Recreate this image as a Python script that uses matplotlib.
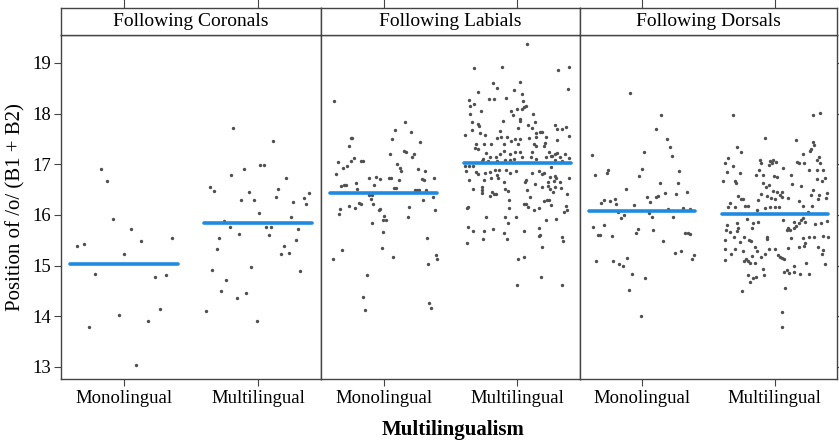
import numpy as np
import matplotlib.pyplot as plt

plt.rcParams['font.family'] = ['Liberation Serif', 'DejaVu Serif']

# ---------------- data ----------------
panels = ["Following Coronals", "Following Labials", "Following Dorsals"]
groups = ["Monolingual", "Multilingual"]

# group means (blue bars)
coronal_means = [15.03, 15.84]
labial_means = [16.44, 17.02]
dorsal_means = [16.08, 16.02]

# individual tokens: value and horizontal jitter
coronal_mono_y = [15.39, 15.42, 13.79, 14.84, 16.91, 16.67, 15.92, 14.02, 15.22, 15.73,
                  13.04, 15.48, 13.90, 14.78, 14.14, 14.82, 15.55]
coronal_mono_dx = [-0.35, -0.30, -0.26, -0.22, -0.17, -0.13, -0.08, -0.04, 0.00, 0.05,
                   0.09, 0.13, 0.18, 0.23, 0.27, 0.31, 0.36]

coronal_multi_y = [17.72, 17.45, 16.91, 16.98, 16.98, 16.79, 16.73, 16.54, 16.48, 16.51,
                   16.46, 16.44, 16.35, 16.30, 16.30, 16.33, 16.25, 16.22, 16.04, 15.96,
                   15.88, 15.77, 15.77, 15.77, 15.72, 15.63, 15.61, 15.55, 15.51, 15.38,
                   15.32, 15.22, 15.24, 14.97, 14.92, 14.90, 14.72, 14.49, 14.45, 14.35,
                   14.10, 13.90]
coronal_multi_dx = [-0.184, 0.114, -0.102, 0.017, 0.042, -0.199, 0.209, -0.361, -0.328, 0.152,
                    -0.065, 0.378, 0.137, -0.127, -0.032, 0.341, 0.264, 0.356, 0.005, 0.246,
                    -0.251, -0.211, 0.060, 0.100, 0.301, -0.142, 0.082, -0.289, 0.286, 0.194,
                    -0.306, 0.169, 0.231, -0.050, -0.343, 0.316, -0.236, -0.274, -0.087, -0.159,
                    -0.386, -0.010]

labial_mono_y = [18.25, 17.04, 16.81, 15.12, 15.30, 16.11, 16.02, 16.93, 16.97, 17.35,
                 17.51, 17.51, 17.06, 17.12, 16.57, 16.59, 16.58, 16.17, 16.13, 16.62,
                 16.52, 16.24, 16.21, 17.07, 17.07, 16.72, 16.39, 16.32, 16.40, 16.22,
                 16.59, 16.74, 15.84, 16.09, 16.11, 16.71, 15.35, 15.67, 15.97, 15.89,
                 15.89, 14.37, 14.12, 14.82, 16.73, 16.73, 17.21, 17.49, 15.17, 16.53,
                 16.53, 17.68, 17.01, 16.68, 16.93, 16.87, 17.26, 17.25, 17.84, 15.96,
                 16.16, 17.63, 17.14, 17.21, 16.50, 16.50, 16.50, 16.90, 17.43, 16.70,
                 16.69, 16.29, 16.87, 16.50, 15.54, 15.03, 14.26, 14.16, 16.36, 16.72,
                 16.09, 15.21, 15.13]
labial_mono_dx = [-0.373, -0.346, -0.358, -0.383, -0.313, -0.331, -0.338, -0.303, -0.274, -0.261,
                  -0.249, -0.236, -0.244, -0.226, -0.318, -0.299, -0.284, -0.264, -0.219, -0.206,
                  -0.197, -0.187, -0.167, -0.174, -0.157, -0.112, -0.107, -0.095, -0.087, -0.082,
                  -0.070, -0.057, -0.087, -0.037, -0.030, -0.025, -0.015, -0.002, 0.005, -0.005,
                  0.017, -0.152, -0.142, -0.124, 0.042, 0.055, 0.050, 0.060, 0.067, 0.077,
                  0.092, 0.082, 0.100, 0.117, 0.124, 0.132, 0.152, 0.164, 0.162, 0.179,
                  0.192, 0.201, 0.209, 0.229, 0.231, 0.246, 0.266, 0.254, 0.271, 0.286,
                  0.299, 0.291, 0.308, 0.318, 0.326, 0.333, 0.341, 0.356, 0.366, 0.373,
                  0.381, 0.388, 0.396]

labial_multi_y = [19.38, 18.89, 18.92, 18.85, 18.92, 18.61, 18.50, 18.63, 18.46, 18.48,
                  18.42, 18.31, 18.38, 18.26, 18.15, 18.19, 18.29, 18.29, 18.25, 18.05,
                  18.05, 18.09, 18.09, 18.13, 18.14, 18.00, 17.97, 17.89, 18.00, 17.84,
                  17.86, 17.85, 17.84, 17.80, 17.76, 17.72, 17.77, 17.72, 17.78, 17.70,
                  17.70, 17.74, 17.67, 17.61, 17.65, 17.64, 17.62, 17.63, 17.58, 17.58,
                  17.54, 17.53, 17.53, 17.53, 17.51, 17.45, 17.50, 17.49, 17.51, 17.47,
                  17.55, 17.39, 17.40, 17.40, 17.41, 17.32, 17.30, 17.40, 17.40, 17.39,
                  17.35, 17.35, 17.27, 17.25, 17.25, 17.24, 17.22, 17.21, 17.20, 17.25,
                  17.22, 17.15, 17.11, 17.14, 17.15, 17.15, 17.17, 17.16, 17.20, 17.14,
                  17.21, 17.07, 17.06, 17.07, 17.09, 17.08, 17.10, 17.10, 17.14, 17.08,
                  17.07, 17.12,
                  16.96, 16.96, 16.97, 16.87, 16.85, 16.81, 16.82, 16.85, 16.88, 16.88,
                  16.89, 16.87, 16.82, 16.79, 16.72, 16.72, 16.69, 16.69, 16.65, 16.83,
                  16.86, 16.80, 16.83, 16.75, 16.77, 16.73, 16.69, 16.64, 16.61, 16.64,
                  16.67, 16.64, 16.72, 16.95, 16.52, 16.54, 16.50, 16.43, 16.37, 16.46,
                  16.42, 16.41, 16.51, 16.47, 16.49, 16.36, 16.54, 16.57, 16.51, 16.54,
                  16.53, 16.42, 16.46, 16.29, 16.21, 16.21, 16.16, 16.09, 16.13, 16.27,
                  16.30, 16.30, 16.19, 16.18, 16.09, 16.05, 16.14, 16.16, 16.14, 15.96,
                  15.95, 15.96, 15.83, 15.90, 15.91, 15.76, 15.69, 15.68, 15.73, 15.64,
                  15.53, 15.68, 15.74, 15.61, 15.59, 15.53, 15.56, 15.48, 15.44, 15.36,
                  15.13, 15.17, 14.78, 14.62, 14.62]
labial_multi_dx = [0.072, -0.324, -0.115, 0.306, 0.390, -0.184, -0.154, 0.017, -0.027, 0.378,
                   -0.291, -0.082, 0.035, -0.361, -0.356, -0.324, -0.212, -0.177, 0.042, -0.271,
                   -0.045, -0.005, 0.037, 0.052, 0.067, -0.351, -0.035, 0.020, 0.119, -0.336,
                   -0.105, 0.017, 0.132, -0.294, -0.284, 0.005, 0.082, 0.107, 0.283, 0.301,
                   0.333, 0.366, -0.341, -0.276, -0.130, 0.167, 0.139, 0.184, -0.393, -0.239,
                   -0.125, -0.075, 0.137, 0.216, -0.154, -0.045, -0.015, 0.017, 0.089, 0.301,
                   0.390, -0.309, -0.197, 0.127, 0.209, -0.316, -0.296, -0.246, -0.100, 0.007,
                   0.144, 0.204, -0.102, -0.020, 0.017, 0.109, -0.232, -0.130, -0.058, 0.236,
                   0.298, -0.204, -0.259, -0.157, 0.032, 0.104, 0.251, 0.264, 0.279, 0.318,
                   0.358, -0.262, -0.222, -0.149, -0.095, -0.058, -0.025, 0.144, 0.216, 0.283,
                   0.333, 0.390,
                   -0.393, -0.358, -0.334, -0.381, -0.306, -0.296, -0.239, -0.202, -0.169, -0.135,
                   -0.085, -0.013, -0.053, -0.150, -0.145, -0.194, -0.247, -0.361, -0.097, 0.109,
                   0.161, 0.184, 0.204, 0.243, 0.281, 0.288, 0.064, 0.057, 0.134, 0.234,
                   0.278, 0.318, 0.388, 0.256, -0.331, -0.264, -0.264, -0.264, -0.207, -0.189,
                   -0.172, -0.160, -0.090, -0.070, 0.072, 0.097, 0.189, 0.231, 0.246, 0.281,
                   0.331, 0.370, 0.266, -0.060, 0.052, 0.067, 0.079, 0.122, 0.166, 0.201,
                   0.224, 0.238, 0.253, 0.368, 0.375, 0.348, -0.376, -0.368, -0.060, -0.232,
                   -0.090, -0.013, -0.070, 0.216, 0.293, -0.368, -0.334, -0.247, -0.184, -0.097,
                   -0.080, 0.049, 0.166, 0.171, 0.161, -0.254, 0.336, 0.343, -0.376, 0.189,
                   0.002, 0.049, 0.181, -0.005, 0.336]

dorsal_mono_y = [17.18, 16.79, 15.77, 15.09, 15.61, 15.61, 16.24, 16.29, 15.79, 16.83,
                 16.89, 16.28, 15.59, 15.09, 16.31, 16.21, 16.05, 15.03, 15.93, 14.99,
                 15.99, 16.52, 15.15, 14.51, 18.40, 14.84, 16.19, 15.65, 15.73, 16.77,
                 14.00, 16.91, 17.24, 14.76, 16.35, 16.03, 16.25, 15.96, 15.70, 16.36,
                 17.69, 16.37, 16.62, 17.98, 15.48, 16.44, 17.49, 16.12, 17.33, 17.16,
                 15.96, 15.24, 16.42, 16.62, 16.87, 15.28, 16.14, 15.65, 16.46, 15.65,
                 16.12, 15.62, 15.13, 15.21]
dorsal_mono_dx = [-0.376, -0.356, -0.371, -0.346, -0.333, -0.321, -0.308, -0.289, -0.291, -0.269,
                  -0.261, -0.244, -0.229, -0.221, -0.206, -0.199, -0.184, -0.177, -0.159, -0.144,
                  -0.137, -0.122, -0.112, -0.097, -0.090, -0.077, -0.065, -0.050, -0.035, -0.027,
                  -0.012, 0.000, 0.010, 0.020, 0.035, 0.050, 0.060, 0.075, 0.082, 0.100,
                  0.104, 0.122, 0.134, 0.142, 0.159, 0.169, 0.184, 0.192, 0.206, 0.221,
                  0.229, 0.246, 0.254, 0.269, 0.276, 0.291, 0.308, 0.323, 0.338, 0.346,
                  0.358, 0.363, 0.378, 0.393]

dorsal_multi_y = [17.97, 17.97, 18.02, 17.51, 17.47, 17.33, 17.24, 17.43, 17.37, 17.30,
                  17.27, 17.21, 17.12, 17.02, 16.96, 17.08, 17.02, 17.07, 17.08, 17.03,
                  17.05, 16.98, 17.05, 17.02, 17.03, 17.08, 17.15, 17.02, 16.85, 16.82,
                  16.88, 16.79, 16.79, 16.77, 16.74, 16.92, 16.79, 16.89, 16.89, 16.89,
                  16.67, 16.67, 16.62, 16.63, 16.54, 16.59, 16.61, 16.56, 16.70, 16.72,
                  16.67, 16.50, 16.48, 16.46, 16.39, 16.46, 16.34, 16.32, 16.41, 16.37,
                  16.36, 16.39, 16.40, 16.43, 16.34, 16.31, 16.24, 16.31, 16.32, 16.37,
                  16.18, 16.18, 16.16, 16.15, 16.29, 16.16, 16.16, 16.16, 16.34, 16.28,
                  16.18, 16.18, 16.09, 16.13, 16.05,
                  15.79, 15.70, 15.66, 15.83, 15.74, 15.68, 15.91, 15.84, 15.74, 15.86,
                  15.90, 15.70, 15.70, 15.55, 15.74, 15.86, 15.83, 15.90, 15.94, 15.85,
                  15.78, 15.74, 15.82, 15.83, 15.87, 15.58, 15.56, 15.56, 15.54, 15.56,
                  15.50, 15.56, 15.46, 15.56, 15.50, 15.49, 15.56, 15.52, 15.36, 15.29,
                  15.33, 15.33, 15.35, 15.37, 15.44, 15.38, 15.37, 15.31, 15.33, 15.33,
                  15.11, 15.22, 15.28, 15.13, 15.09, 15.09, 15.19, 15.05, 15.05, 15.17,
                  15.23, 15.20, 15.17, 15.15, 15.13, 15.00, 14.92, 15.04, 15.23, 15.03,
                  14.94, 14.82, 14.87, 14.86, 14.87, 14.84, 14.84, 14.82, 14.76, 14.78,
                  14.67, 14.49, 14.55, 14.08, 13.79]
dorsal_multi_dx = [-0.318, 0.289, 0.343, -0.070, 0.157, -0.288, -0.256, 0.291, 0.299, 0.276,
                   0.266, 0.212, -0.351, -0.378, -0.316, -0.112, -0.102, -0.032, -0.012, -0.022,
                   0.008, -0.042, 0.169, 0.184, 0.224, 0.321, 0.336, 0.343, -0.358, -0.259,
                   -0.122, -0.144, -0.092, -0.007, 0.018, 0.062, 0.125, 0.261, 0.321, 0.363,
                   -0.390, -0.298, -0.291, -0.092, -0.067, -0.040, 0.132, 0.202, 0.316, 0.383,
                   0.358, 0.289, -0.012, 0.018, 0.040, 0.052, -0.027, 0.003, -0.102, -0.060,
                   0.055, 0.271, 0.331, 0.396, 0.386, 0.329, -0.341, -0.254, -0.236, -0.276,
                   -0.226, -0.204, -0.303, -0.351, -0.129, -0.032, 0.000, 0.032, 0.102, 0.182,
                   0.214, 0.281, -0.132, -0.072, 0.251,
                   -0.363, -0.371, -0.341, -0.288, -0.279, -0.288, -0.211, -0.167, -0.169, -0.127,
                   0.065, 0.090, 0.117, 0.122, 0.102, 0.147, 0.182, 0.197, 0.217, 0.227,
                   0.157, 0.147, 0.306, 0.351, 0.391, 0.363, 0.401, 0.299, 0.212, 0.256,
                   -0.373, -0.308, -0.261, -0.234, -0.191, -0.176, -0.060, -0.055, -0.147, -0.137,
                   -0.042, 0.003, 0.097, 0.182, 0.231, 0.219, 0.326, 0.366, -0.375, -0.301,
                   -0.378, -0.328, -0.241, -0.219, -0.234, -0.204, -0.171, -0.189, -0.152, -0.104,
                   -0.072, 0.022, 0.037, 0.052, 0.072, 0.142, 0.092, 0.236, 0.353, 0.376,
                   -0.087, -0.084, 0.072, 0.107, 0.149, 0.194, 0.256, -0.201, -0.162, -0.142,
                   -0.184, -0.249, 0.077, 0.052, 0.052]

points = [
    [(coronal_mono_y, coronal_mono_dx), (coronal_multi_y, coronal_multi_dx)],
    [(labial_mono_y, labial_mono_dx), (labial_multi_y, labial_multi_dx)],
    [(dorsal_mono_y, dorsal_mono_dx), (dorsal_multi_y, dorsal_multi_dx)],
]
means = [coronal_means, labial_means, dorsal_means]

# ---------------- layout (pixels) ----------------
W, H = 839, 446
fig = plt.figure(figsize=(W / 100, H / 100), dpi=100)

edges = [61, 321, 580, 837]
plot_top, plot_bot = 35, 379
strip_top = 8
frame_col = '#444444'
dot_col = '#505050'
bar_col = '#1f8be0'

for i, title in enumerate(panels):
    x0, x1 = edges[i], edges[i + 1]
    ax = fig.add_axes([x0 / W, 1 - plot_bot / H, (x1 - x0) / W, (plot_bot - plot_top) / H])
    for j, (ys, dxs) in enumerate(points[i]):
        ax.scatter(j + np.array(dxs), ys, s=6, color=dot_col, linewidths=0, zorder=2)
        ax.plot([j - 0.4, j + 0.4], [means[i][j]] * 2, color=bar_col, lw=2.6,
                solid_capstyle='round', zorder=3)
    ax.set_xlim(-0.47, 1.47)
    ax.set_ylim(12.76, 19.55)
    ax.set_xticks([0, 1])
    ax.set_xticklabels(groups, fontsize=13.5)
    ax.tick_params(axis='x', length=5, width=0.8, color=frame_col, pad=3)
    ax.set_yticks(range(13, 20))
    if i == 0:
        ax.tick_params(axis='y', labelsize=13.5, length=5, width=0.8, color=frame_col, pad=2)
        ax.set_ylabel('Position of /o/ (B1 + B2)', fontsize=15, labelpad=5)
    elif i == 2:
        ax.tick_params(axis='y', left=False, labelleft=False, right=True,
                       length=4, width=0.8, color=frame_col)
    else:
        ax.tick_params(axis='y', left=False, labelleft=False)
    for sp in ax.spines.values():
        sp.set_color(frame_col)
        sp.set_linewidth(1.0)

    # facet strip on top
    sx = fig.add_axes([x0 / W, 1 - plot_top / H, (x1 - x0) / W, (plot_top - strip_top) / H])
    sx.set_xlim(-0.47, 1.47)
    sx.set_ylim(0, 1)
    sx.set_yticks([])
    sx.set_xticks([0, 1])
    sx.tick_params(axis='x', bottom=False, labelbottom=False, top=True,
                   length=7, width=0.8, color=frame_col)
    for sp in sx.spines.values():
        sp.set_color(frame_col)
        sp.set_linewidth(1.0)
    sx.text(0.5, 0.5, title, transform=sx.transAxes, ha='center', va='center', fontsize=14)

fig.text(453 / W, 1 - 430 / H, 'Multilingualism', ha='center', va='center',
         fontsize=15, fontweight='bold')

fig.savefig('out.png', dpi=100)
